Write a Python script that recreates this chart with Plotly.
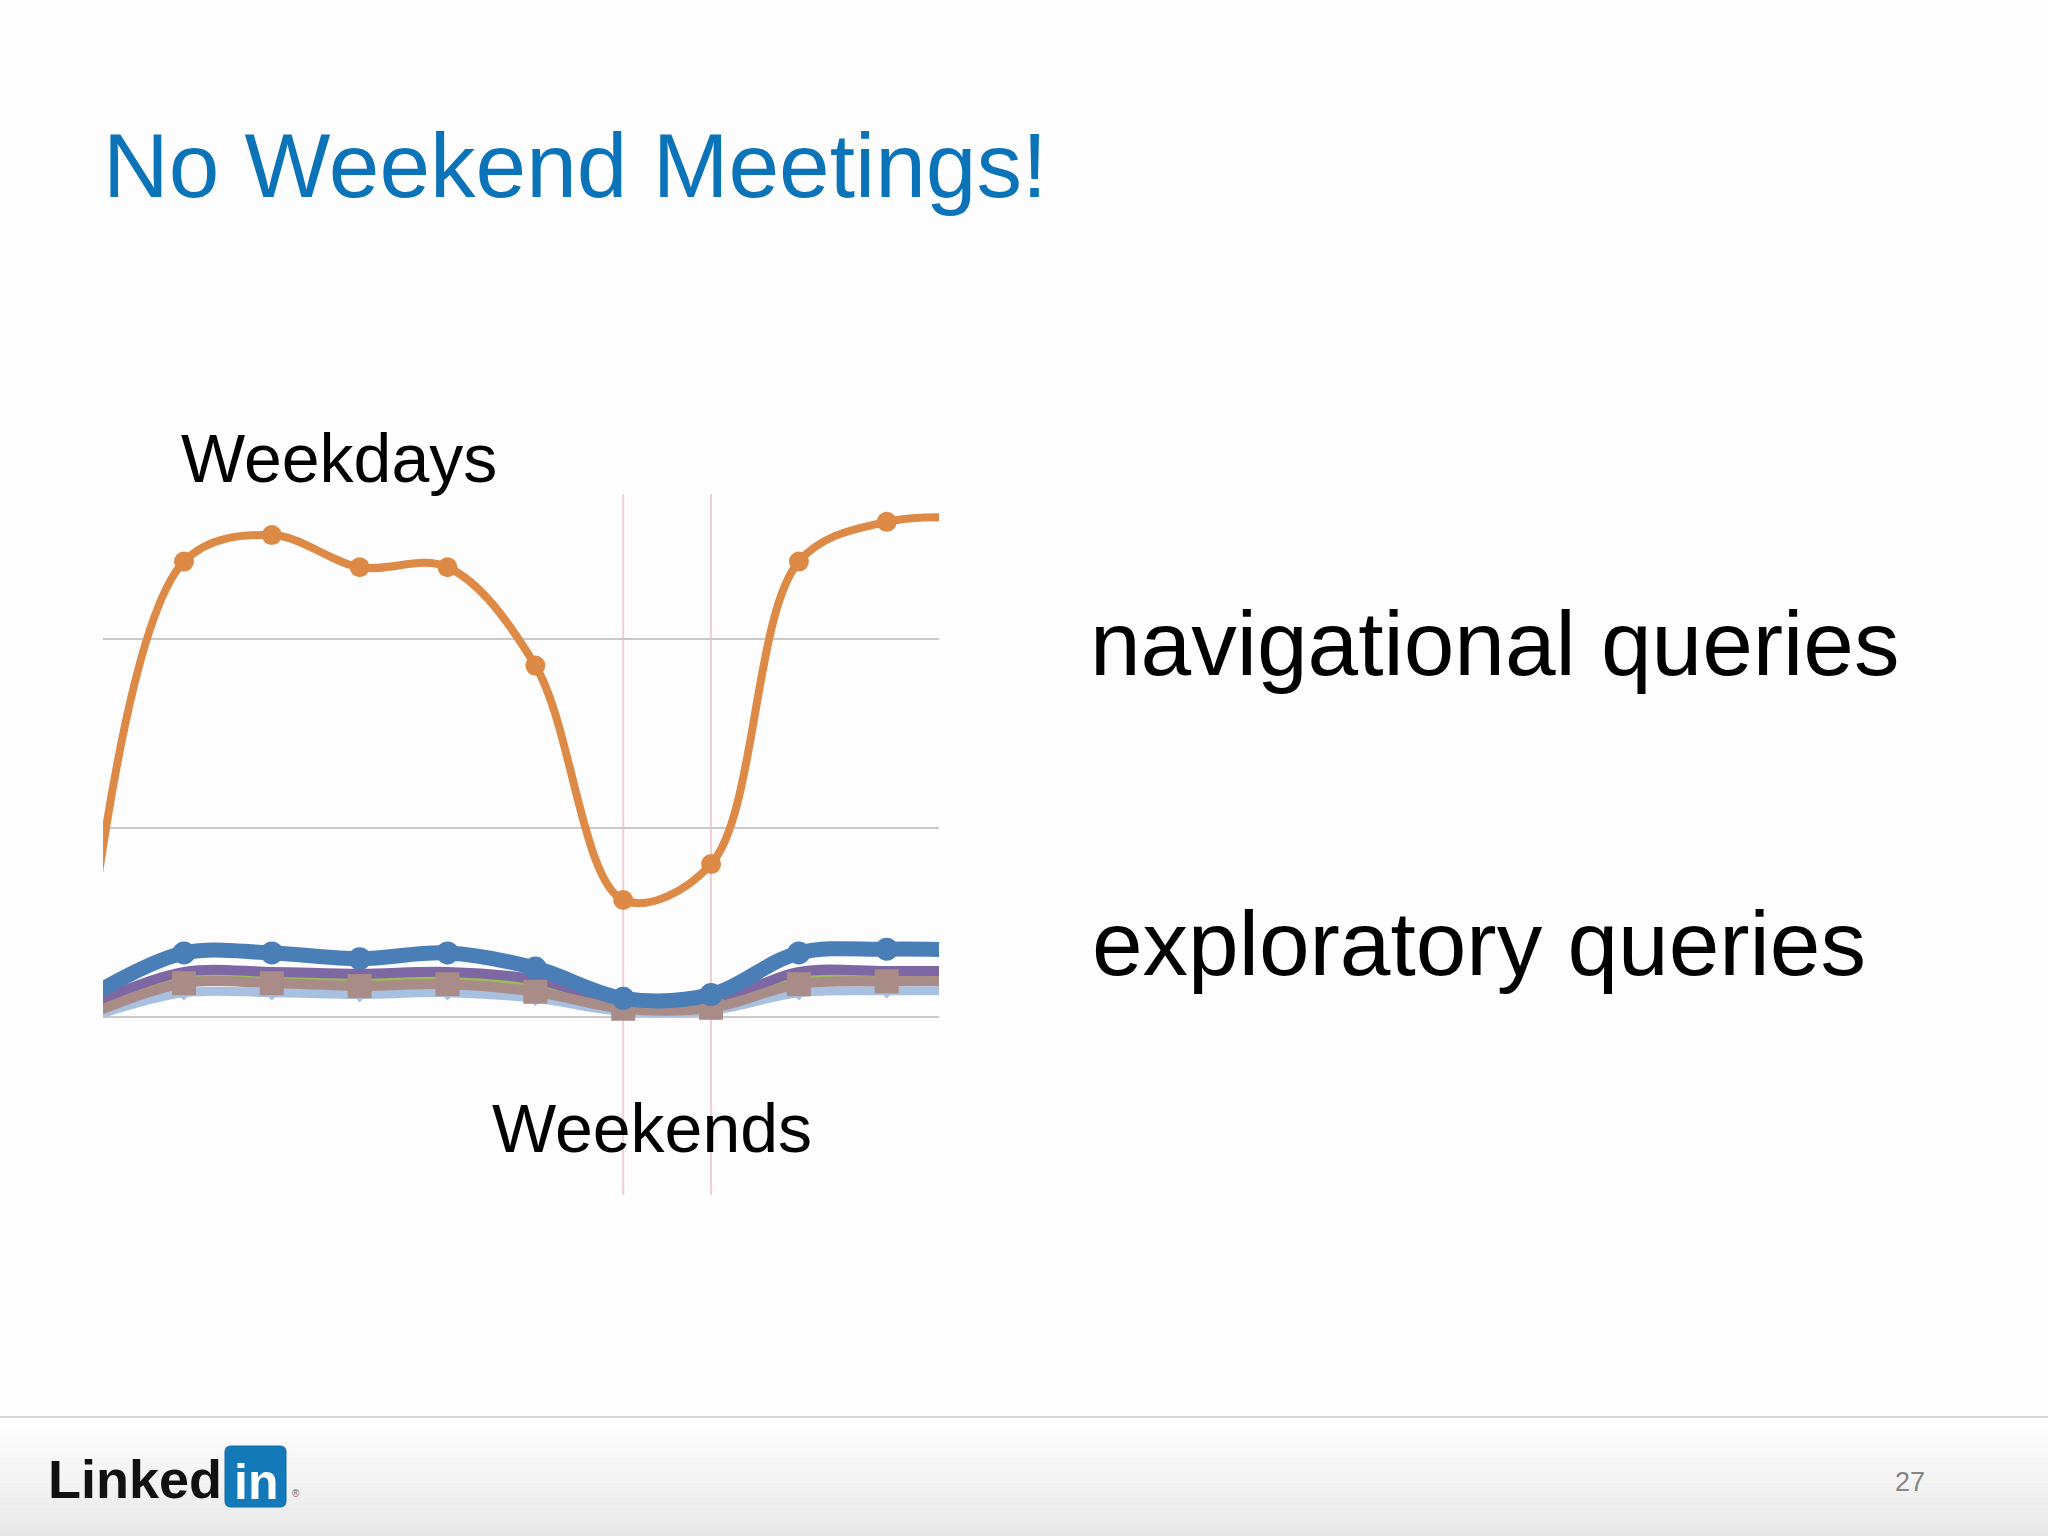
import plotly.graph_objects as go

# ---- data (index -1 and 9 lie just outside the visible window) ----
day_idx = [-1, 0, 1, 2, 3, 4, 5, 6, 7, 8, 9]
navigational = [0.66, 2.41, 2.55, 2.38, 2.38, 1.86, 0.62, 0.81, 2.41, 2.62, 2.64]
explor_blue = [0.13, 0.34, 0.34, 0.31, 0.34, 0.26, 0.10, 0.12, 0.34, 0.36, 0.355]
explor_purple = [0.08, 0.24, 0.24, 0.23, 0.24, 0.20, 0.075, 0.08, 0.24, 0.245, 0.245]
explor_green = [0.06, 0.21, 0.21, 0.20, 0.21, 0.17, 0.06, 0.065, 0.21, 0.22, 0.22]
explor_mauve = [0.03, 0.18, 0.18, 0.165, 0.175, 0.135, 0.045, 0.05, 0.175, 0.19, 0.19]
explor_light = [0.01, 0.13, 0.13, 0.12, 0.13, 0.10, 0.03, 0.035, 0.13, 0.14, 0.14]
weekend_idx = [5, 6]
grid_vals = [0, 1, 2]

W, H = 2048, 1536


def px(x):
    return x / W


def py(y):
    return 1 - y / H


fig = go.Figure()

series = [
    (explor_light, "#A9C1E0", 9, "diamond", 12),
    (explor_green, "#9BBB59", 8, "triangle-up", 14),
    (explor_purple, "#7E68A4", 10, "circle", 8),
    (explor_mauve, "#A98C88", 10, "square", 24),
    (explor_blue, "#4A7EB7", 15, "circle", 23),
    (navigational, "#DD8A47", 8, "circle", 20),
]
for vals, col, lw, sym, ms in series:
    sizes = [ms if 0 <= d <= 8 else 0 for d in day_idx]
    fig.add_trace(go.Scatter(
        x=day_idx, y=vals, mode="lines+markers",
        line=dict(color=col, width=lw, shape="spline", smoothing=1.0),
        marker=dict(color=col, size=sizes, symbol=sym, opacity=1,
                    line=dict(width=0, color=col)),
        showlegend=False, hoverinfo="skip",
    ))

shapes = []
# weekend marker lines
for wi in weekend_idx:
    shapes.append(dict(type="line", xref="x", yref="paper", x0=wi, x1=wi,
                       y0=py(1195), y1=py(494),
                       line=dict(color="#F3CDD2", width=2), layer="below"))
# footer gradient
n = 24
top, bot = 1417, 1536
for i in range(n):
    y0 = top + (bot - top) * i / n
    y1 = top + (bot - top) * (i + 1) / n
    c = int(255 - (255 - 232) * (i / (n - 1)))
    shapes.append(dict(type="rect", xref="paper", yref="paper",
                       x0=0, x1=1, y0=py(y1), y1=py(y0),
                       fillcolor=f"rgb({c},{c},{c})", line=dict(width=0), layer="below"))
shapes.append(dict(type="line", xref="paper", yref="paper", x0=0, x1=1,
                   y0=py(1417), y1=py(1417), line=dict(color="#D5D5D5", width=2)))
# LinkedIn "in" box (rounded)
bx0, bx1, by0, by1, r = px(225), px(286), py(1507), py(1446), 6
rx, ry = r / W, r / H
path = (f"M {bx0+rx},{by0} L {bx1-rx},{by0} Q {bx1},{by0} {bx1},{by0+ry} "
        f"L {bx1},{by1-ry} Q {bx1},{by1} {bx1-rx},{by1} L {bx0+rx},{by1} "
        f"Q {bx0},{by1} {bx0},{by1-ry} L {bx0},{by0+ry} Q {bx0},{by0} {bx0+rx},{by0} Z")
shapes.append(dict(type="path", xref="paper", yref="paper", path=path,
                   fillcolor="#1479B8", line=dict(color="#0E6AA6", width=1)))

font = "Liberation Sans, Arial, sans-serif"


def text(t, x, baseline, size, color="#000000", bold=False, anchor="left"):
    return dict(text=(f"<b>{t}</b>" if bold else t), xref="paper", yref="paper",
                x=px(x), y=py(baseline - 0.34 * size), xanchor=anchor, yanchor="middle",
                showarrow=False, font=dict(family=font, size=size, color=color))


annotations = [
    text("No Weekend Meetings!", 101, 196, 91, "#0B74B8"),
    text("Weekdays", 179, 481, 68),
    text("Weekends", 490, 1151, 68),
    text("navigational queries", 1088, 674, 91),
    text("exploratory queries", 1090, 974, 91),
    text("Linked", 46, 1497, 54, "#111111", bold=True),
    text("in", 255.5, 1499, 50, "#FFFFFF", bold=True, anchor="center"),
    text("®", 290, 1497, 10, "#666666"),
    text("27", 1893, 1491, 27, "#858585"),
]

fig.update_layout(
    width=W, height=H,
    margin=dict(l=0, r=0, t=0, b=0),
    paper_bgcolor="#FDFDFD", plot_bgcolor="rgba(0,0,0,0)",
    shapes=shapes, annotations=annotations,
    xaxis=dict(domain=[px(103), px(939)], range=[-0.922, 8.595],
               showgrid=False, zeroline=False, showticklabels=False, ticks="",
               fixedrange=True),
    yaxis=dict(domain=[py(1074), py(450)], range=[-0.3, 3.0],
               tickvals=grid_vals, showgrid=True, gridcolor="#C9C9C9", gridwidth=2,
               zeroline=False, showticklabels=False, ticks="", fixedrange=True),
)

fig.write_html("out.html", config={"displayModeBar": False},
               post_script="document.body.style.margin='0px';")
